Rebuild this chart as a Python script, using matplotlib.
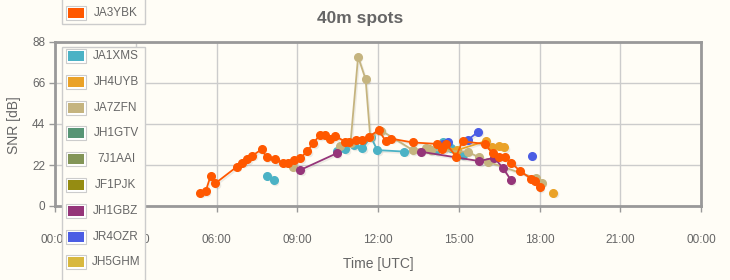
import numpy as np
import matplotlib
matplotlib.use('Agg')
import matplotlib.pyplot as plt
from matplotlib.patches import Rectangle

nan = np.nan

# spots per station : heure UTC (decimale) et SNR [dB], nan = coupure de ligne
ja3ybk_t = [5.40, 5.60, 5.78, 5.96, 6.76, 6.96, 7.15, 7.33, 7.68, 7.86, 8.19, 8.48, 8.65, 8.88, 9.11,
            9.37, 9.60, 9.84, 10.03, 10.23, 10.42, 10.79, 10.94, 11.19, 11.41, 11.68, 12.02, 12.28,
            12.50, 13.29, 14.21, 14.39, 14.54, 14.90, 15.14, 15.96, 16.26, 16.48, 16.73, 16.95,
            17.27, 17.69, 17.84, 18.02]
ja3ybk_s = [7.1, 8.0, 16.1, 12.2, 21.1, 23.2, 25.2, 27.0, 30.4, 26.1, 25.2, 23.2, 23.2, 24.5, 25.6,
            29.4, 33.8, 38.1, 37.9, 36.1, 37.4, 34.5, 34.5, 35.3, 35.4, 37.2, 40.8, 35.0,
            36.1, 34.1, 33.3, 30.6, 33.3, 26.5, 34.7, 33.3, 28.3, 26.1, 26.1, 23.2,
            18.9, 14.6, 13.3, 10.0]

ja1xms_t = [7.89, 8.13, nan, 10.46, 10.79, 11.09, 11.42, 11.74, 11.97, 12.98, 14.17, 14.40, 14.73, 15.14]
ja1xms_s = [16.3, 14.0, nan, 29.5, 30.4, 32.7, 31.0, 37.0, 30.0, 29.2, 29.8, 34.2, 31.1, 27.1]

jh4uyb_t = [13.91, 14.47, 14.95, 16.02, 16.25, 16.51, 16.69, nan, 18.51]
jh4uyb_s = [30.6, 31.7, 30.0, 34.9, 31.7, 32.4, 31.5, nan, 7.2]

ja7zfn_t = [8.84, nan, 10.57, 10.98, 11.26, 11.54, 11.71, 12.12, 13.29, 13.79, 13.97, 15.33,
            15.76, 16.07, 17.87, 18.09]
ja7zfn_s = [21.1, nan, 32.2, 34.0, 80.1, 68.0, 37.2, 40.5, 30.0, 31.0, 30.0, 29.1,
            26.1, 23.8, 14.9, 12.5]

jh1gbz_t = [9.11, 10.47, nan, 13.60, 15.76, 16.32, 16.65, 16.94]
jh1gbz_s = [19.3, 28.3, nan, 29.1, 24.1, 25.9, 20.2, 13.9]

jr4ozr_t = [14.40, 14.59, nan, 15.33, 15.73, nan, 17.72]
jr4ozr_s = [33.5, 34.5, nan, 35.4, 39.9, nan, 27.0]

stations = ['JA1XMS', 'JH4UYB', 'JA7ZFN', 'JH1GTV', '7J1AAI', 'JF1PJK', 'JH1GBZ', 'JR4OZR', 'JH5GHM']
colors = ['#4bb2c5', '#EAA228', '#c5b47f', '#579575', '#839557', '#958c12', '#953579', '#4b5de4', '#d8b83f']
series = {'JA1XMS': (ja1xms_t, ja1xms_s), 'JH4UYB': (jh4uyb_t, jh4uyb_s), 'JA7ZFN': (ja7zfn_t, ja7zfn_s),
          'JH1GBZ': (jh1gbz_t, jh1gbz_s), 'JR4OZR': (jr4ozr_t, jr4ozr_s)}

xticks = [0, 3, 6, 9, 12, 15, 18, 21, 24]
xlabels = ['00:00', '03:00', '06:00', '09:00', '12:00', '15:00', '18:00', '21:00', '00:00']
yticks = [0, 22, 44, 66, 88]

bg = '#fffdf6'
txt = '#666666'
plt.rcParams['font.family'] = ['Liberation Sans', 'DejaVu Sans']

W, H = 730, 280
fig = plt.figure(figsize=(W / 100, H / 100), dpi=100, facecolor=bg)
# zone de trace en pixels
x0, x1, ytop, ybot = 55, 701, 42, 206
ax = fig.add_axes([x0 / W, (H - ybot) / H, (x1 - x0) / W, (ybot - ytop) / H])
ax.set_facecolor(bg)

def draw(t, s, c):
    ax.plot(t, s, color=c, lw=1.3, marker='o', ms=5.5, mec=c, zorder=3, clip_on=False)
    # ombre legere
    ax.plot(np.array(t) + 0.05, np.array(s) - 0.9, color='#000000', alpha=0.07, lw=1.3,
            marker='o', ms=5.5, mew=0, zorder=2, clip_on=False)

for name, c in zip(stations, colors):
    if name in series:
        draw(series[name][0], series[name][1], c)
draw(ja3ybk_t, ja3ybk_s, '#ff5800')

ax.set_xlim(0, 24)
ax.set_ylim(0, 88)
ax.set_xticks(xticks)
ax.set_xticklabels(xlabels)
ax.set_yticks(yticks)
ax.grid(True, color='#cccccc', lw=1)
ax.set_axisbelow(True)
for sp in ax.spines.values():
    sp.set_color('#999999')
    sp.set_linewidth(2)
ax.tick_params(axis='x', colors=txt, labelsize=8.5, length=4.5, width=1, color='#999999', pad=16)
ax.tick_params(axis='y', colors=txt, labelsize=8.5, length=4, width=1, color='#999999', pad=3)

fig.text(360 / W, 1 - 18 / H, '40m spots', ha='center', va='center', fontsize=12.5,
         fontweight='bold', color=txt)
fig.text(378 / W, 1 - 264 / H, 'Time [UTC]', ha='center', va='center', fontsize=10, color=txt)
fig.text(14 / W, 1 - 125 / H, 'SNR [dB]', ha='center', va='center', fontsize=10, color=txt,
         rotation=90)

# legende (deux boites)
def box(ya, yb):
    fig.add_artist(Rectangle((62 / W, 1 - yb / H), 83 / W, (yb - ya) / H, transform=fig.transFigure,
                             facecolor=bg, edgecolor='#cccccc', lw=1, zorder=5))

def entry(y, name, c):
    fig.add_artist(Rectangle((66 / W, 1 - (y + 7) / H), 20 / W, 14 / H, transform=fig.transFigure,
                             facecolor='white', edgecolor='#cccccc', lw=0.8, zorder=6))
    fig.add_artist(Rectangle((68 / W, 1 - (y + 5) / H), 16 / W, 10 / H, transform=fig.transFigure,
                             facecolor=c, edgecolor='none', zorder=7))
    fig.text(116 / W, 1 - y / H, name, ha='center', va='center', fontsize=8.5, color=txt, zorder=8)

box(-5, 24)
entry(13, 'JA3YBK', '#ff5800')
box(47, 290)
for i, (name, c) in enumerate(zip(stations, colors)):
    entry(56 + i * 25.8, name, c)

fig.savefig('out.png', dpi=100, facecolor=bg)
